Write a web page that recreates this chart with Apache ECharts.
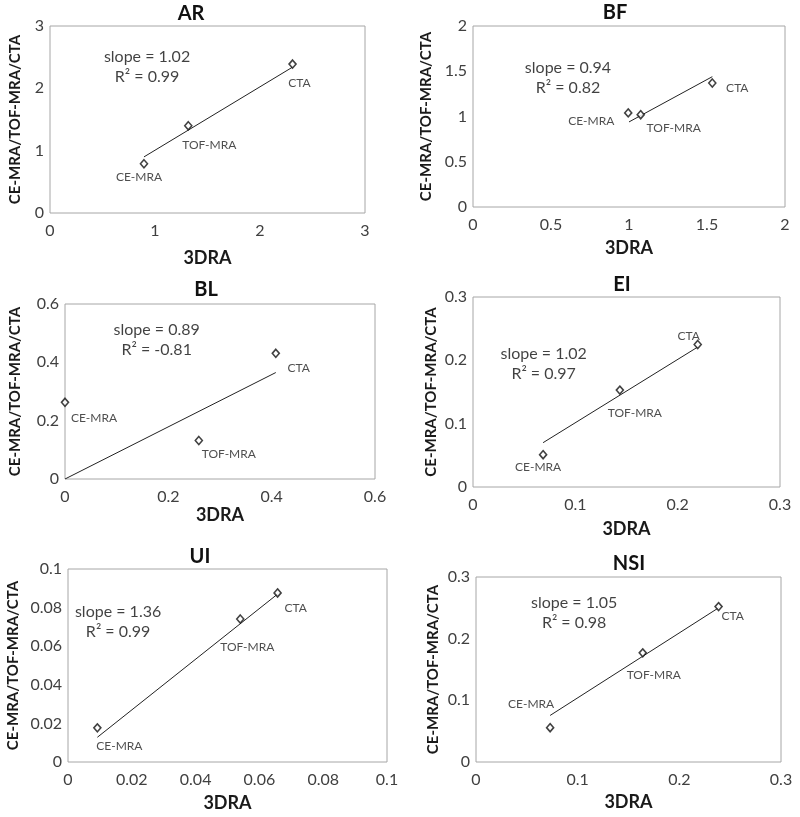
<!DOCTYPE html>
<html>
<head>
<meta charset="utf-8">
<script src="https://cdn.jsdelivr.net/npm/echarts@6/dist/echarts.min.js"></script>
<style>html,body{margin:0;padding:0;background:#fff}#c{width:800px;height:817px}</style>
</head>
<body>
<div id="c"></div>
<script>
// ---- data ----
const panels = ['AR', 'BF', 'BL', 'EI', 'UI', 'NSI'];
const methods = ['CE-MRA', 'TOF-MRA', 'CTA'];
const dra_AR = [0.895, 1.317, 2.31];   const mod_AR = [0.79, 1.40, 2.39];
const dra_BF = [0.995, 1.075, 1.534];  const mod_BF = [1.04, 1.02, 1.37];
const dra_BL = [0.0, 0.259, 0.408];    const mod_BL = [0.263, 0.132, 0.431];
const dra_EI = [0.0685, 0.1435, 0.2196]; const mod_EI = [0.051, 0.153, 0.225];
const dra_UI = [0.0092, 0.054, 0.0657];  const mod_UI = [0.0177, 0.0741, 0.0876];
const dra_NSI = [0.0729, 0.164, 0.2386]; const mod_NSI = [0.0556, 0.177, 0.252];
const trend_AR = [[0.895, 0.90], [2.31, 2.34]];
const trend_BF = [[1.0, 0.94], [1.534, 1.44]];
const trend_BL = [[0, 0], [0.408, 0.365]];
const trend_EI = [[0.0685, 0.070], [0.2196, 0.221]];
const trend_UI = [[0.0092, 0.0128], [0.0657, 0.0870]];
const trend_NSI = [[0.0729, 0.0755], [0.2386, 0.250]];
const slopes = ['1.02', '0.94', '0.89', '1.02', '1.36', '1.05'];
const r2s = ['0.99', '0.82', '-0.81', '0.97', '0.99', '0.98'];
const axisMax = [3, 2, 0.6, 0.3, 0.1, 0.3];
const axisInterval = [1, 0.5, 0.2, 0.1, 0.02, 0.1];
const xTitle = '3DRA';
const yTitle = 'CE-MRA/TOF-MRA/CTA';

const xs = [dra_AR, dra_BF, dra_BL, dra_EI, dra_UI, dra_NSI];
const ys = [mod_AR, mod_BF, mod_BL, mod_EI, mod_UI, mod_NSI];
const trends = [trend_AR, trend_BF, trend_BL, trend_EI, trend_UI, trend_NSI];

// ---- layout / style ----
const grids = [
  {left: 50, top: 26, width: 315, height: 187},
  {left: 473, top: 26, width: 312, height: 181},
  {left: 65, top: 304, width: 310, height: 175},
  {left: 473, top: 297, width: 307, height: 190},
  {left: 68, top: 569, width: 319, height: 193},
  {left: 476, top: 577, width: 305, height: 185}
];
const titlePos = [[191, 14], [615, 13], [206, 290], [622, 285], [200, 557], [629, 564]];
const yNameGap = [27, 39, 42, 34, 47, 35];
const xNameGap = [36, 32, 27, 33, 32, 31];
// annotation anchor (data coords) per panel
const annotPos = [[0.924, 2.34], [0.609, 1.425], [0.1775, 0.476], [0.069, 0.195], [0.0157, 0.0727], [0.0965, 0.2426]];
// point label offsets in px: [CE, TOF, CTA]
const labelOff = [
  [[-5, 13], [21, 19], [7, 19]],
  [[-37, 8], [33, 13], [25, 5]],
  [[29, 16], [30, 14], [23, 15]],
  [[-5, 12], [15, 23], [-9, -8]],
  [[22, 18], [7, 28], [18, 15]],
  [[-19, -24], [11, 22], [14, 10]]
];
const FONT = 'Lato';

const fmt = v => String(+(+v).toFixed(4));

const option = {
  animation: false,
  backgroundColor: '#fff',
  grid: [], xAxis: [], yAxis: [], series: [], graphic: []
};

panels.forEach((p, i) => {
  option.grid.push(Object.assign({show: true, borderColor: '#a6a6a6', borderWidth: 1, containLabel: false}, grids[i]));
  option.xAxis.push({
    type: 'value', gridIndex: i, min: 0, max: axisMax[i], interval: axisInterval[i],
    axisLine: {show: false}, axisTick: {show: false}, splitLine: {show: false},
    axisLabel: {color: '#404040', fontSize: 16, fontFamily: FONT, margin: 10, formatter: fmt, showMinLabel: true, showMaxLabel: true},
    name: xTitle, nameLocation: 'middle', nameGap: xNameGap[i],
    nameTextStyle: {color: '#1a1a1a', fontSize: 18, fontWeight: 'bold', fontFamily: FONT}
  });
  option.yAxis.push({
    type: 'value', gridIndex: i, min: 0, max: axisMax[i], interval: axisInterval[i],
    axisLine: {show: false}, axisTick: {show: false}, splitLine: {show: false},
    axisLabel: {color: '#404040', fontSize: 16, fontFamily: FONT, margin: 6, formatter: fmt, showMinLabel: true, showMaxLabel: true},
    name: yTitle, nameLocation: 'middle', nameRotate: 90, nameGap: yNameGap[i],
    nameTextStyle: {color: '#1a1a1a', fontSize: 15, fontWeight: 'bold', fontFamily: FONT}
  });
  // trend line
  option.series.push({
    type: 'line', xAxisIndex: i, yAxisIndex: i, data: trends[i], showSymbol: false, symbol: 'none',
    lineStyle: {color: '#222', width: 1}, silent: true, z: 2
  });
  // points
  option.series.push({
    type: 'scatter', xAxisIndex: i, yAxisIndex: i, symbol: 'diamond', symbolSize: [7, 8], z: 3,
    itemStyle: {color: '#fff', borderColor: '#111', borderWidth: 1.6},
    data: methods.map((m, k) => ({
      value: [xs[i][k], ys[i][k]], name: m,
      label: {offset: labelOff[i][k]}
    })),
    label: {show: true, position: 'inside', formatter: d => d.name, color: '#222', fontSize: 12, fontFamily: FONT, align: 'center', verticalAlign: 'middle'}
  });
  // annotation
  option.series.push({
    type: 'scatter', xAxisIndex: i, yAxisIndex: i, symbolSize: 0, silent: true, z: 4,
    data: [{value: annotPos[i], name: 'slope = ' + slopes[i] + '\nR² = ' + r2s[i]}],
    label: {show: true, position: 'inside', formatter: d => d.name, color: '#111', fontSize: 16, lineHeight: 20, fontFamily: FONT, align: 'center', verticalAlign: 'middle'}
  });
  option.graphic.push({
    type: 'text', x: titlePos[i][0], y: titlePos[i][1],
    style: {text: p, fill: '#111', font: 'bold 20px ' + FONT, textAlign: 'center', textVerticalAlign: 'middle'}
  });
});

const chart = echarts.init(document.getElementById('c'), null, {renderer: 'canvas'});
chart.setOption(option);
</script>
</body>
</html>
